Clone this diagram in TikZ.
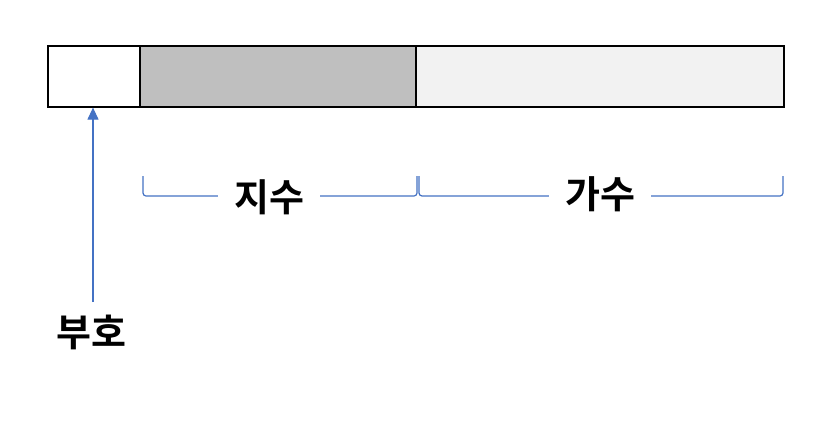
\documentclass[tikz,border=0pt]{standalone}
\usepackage{fontspec}
\newfontfamily\krfont{Noto Sans CJK KR}[BoldFont={Noto Sans CJK KR Bold}]
\usetikzlibrary{arrows.meta}
\definecolor{accentblue}{HTML}{4472C4}
\definecolor{expgray}{HTML}{BFBFBF}
\definecolor{mantgray}{HTML}{F2F2F2}
\tikzset{
  cell/.style={draw=black, line width=1.6pt, anchor=north west, minimum height=61pt, inner sep=0pt},
  bracketline/.style={draw=accentblue, line width=1.2pt, rounded corners=3pt},
  lbl/.style={font=\krfont\bfseries\fontsize{38}{40}\selectfont, fill=white, inner xsep=16pt, inner ysep=2pt},
  pointer/.style={draw=accentblue, line width=1.1pt, -{Triangle[length=12pt,width=11pt]}}
}
\begin{document}
\begin{tikzpicture}[x=1pt,y=-1pt]
\path[fill=white] (0,0) rectangle (832,426);
\useasboundingbox (0,0) rectangle (832,426);
\node[cell, fill=white, minimum width=92pt] (sign) at (47,45) {};
\node[cell, fill=expgray, minimum width=276pt] (exp) at (139,45) {};
\node[cell, fill=mantgray, minimum width=368pt] (mant) at (415,45) {};
\coordinate (b1a) at (143,176);
\coordinate (b1b) at (417,176);
\coordinate (b2a) at (419,176);
\coordinate (b2b) at (783,176);
\draw[bracketline] (b1a) -- ++(0,20) -| (b1b);
\draw[bracketline] (b2a) -- ++(0,20) -| (b2b);
\node[lbl] (explbl) at (269,197) {지수};
\node[lbl] (mantlbl) at (600,194) {가수};
\node[font=\krfont\bfseries\fontsize{38}{40}\selectfont, inner sep=0pt] (signlbl) at (91,332) {부호};
\coordinate (ptrstart) at (93,302);
\draw[pointer] (ptrstart) -- (sign.south -| ptrstart);
\end{tikzpicture}
\end{document}
